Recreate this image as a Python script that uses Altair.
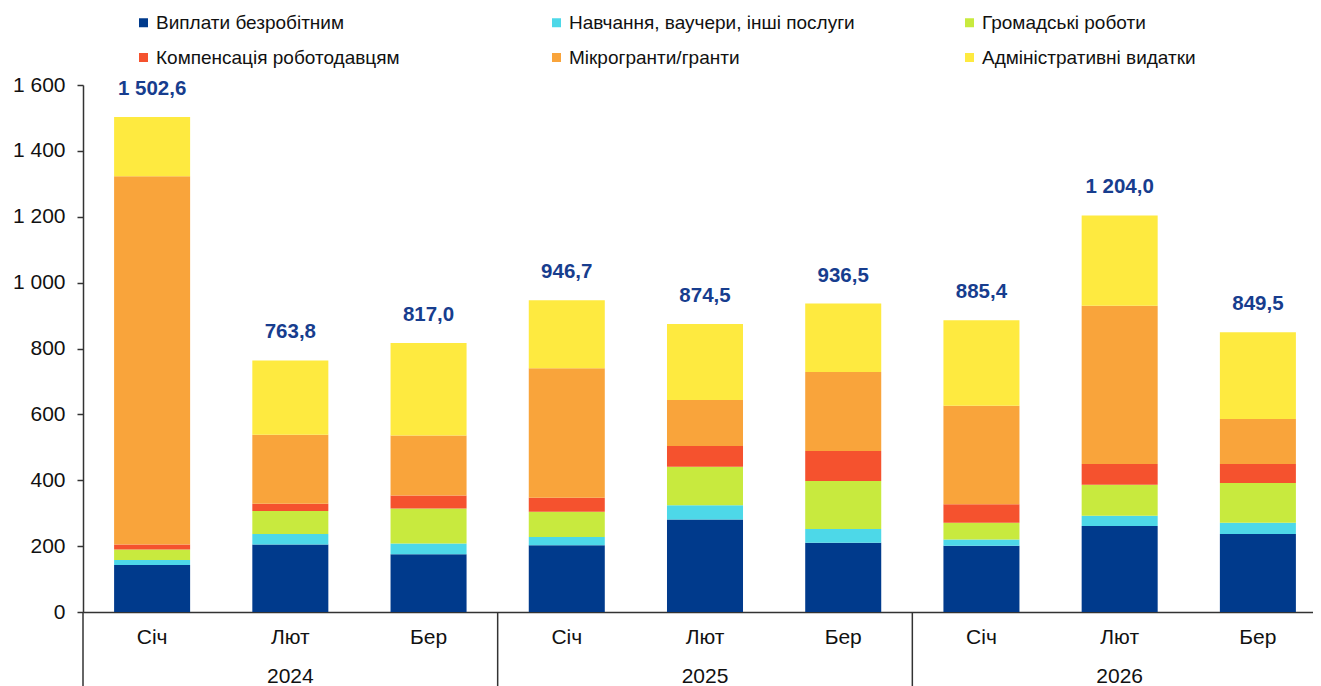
import altair as alt
import pandas as pd

# ---------------- data ----------------
years = ["2024", "2024", "2024", "2025", "2025", "2025", "2026", "2026", "2026"]
months = ["Січ", "Лют", "Бер", "Січ", "Лют", "Бер", "Січ", "Лют", "Бер"]
year_labels = ["2024", "2025", "2026"]

categories = [
    "Виплати безробітним",
    "Навчання, ваучери, інші послуги",
    "Громадські роботи",
    "Компенсація роботодавцям",
    "Мікрогранти/гранти",
    "Адміністративні видатки",
]
colors = ["#003A8C", "#4DD8E8", "#C8EA3E", "#F5522E", "#F9A43B", "#FEEA40"]

vyplaty = [143, 205, 175, 203, 281, 210, 201, 261, 237]
navchannia = [15, 32, 33, 25, 43, 42, 19, 31, 34]
hromadski = [32, 70, 106, 76, 117, 146, 51, 94, 121]
kompensatsia = [15, 22, 40, 43, 63, 91, 56, 63, 57]
mikrohranty = [1118, 209, 182, 393, 140, 240, 299, 481, 137]
administratyvni = [179.6, 225.8, 281.0, 206.7, 230.5, 207.5, 259.4, 274.0, 263.5]
totals = [1502.6, 763.8, 817.0, 946.7, 874.5, 936.5, 885.4, 1204.0, 849.5]

series = [vyplaty, navchannia, hromadski, kompensatsia, mikrohranty, administratyvni]

# ---------------- tables ----------------
keys = [f"{y}|{m}" for y, m in zip(years, months)]
rows = []
for ci, (cat, vals) in enumerate(zip(categories, series)):
    for k, v in zip(keys, vals):
        rows.append({"key": k, "category": cat, "value": v, "idx": ci})
df = pd.DataFrame(rows)


def fmt(v):
    return f"{v:,.1f}".replace(",", " ").replace(".", ",")


df_tot = pd.DataFrame({"key": keys, "total": totals, "label": [fmt(t) for t in totals]})

df_sep = pd.DataFrame({"pos": [0, 3, 6, 9]})
df_year = pd.DataFrame({"pos": [1.5, 4.5, 7.5], "year": year_labels})

# ---------------- layout ----------------
W = 1230
H = 527
XR = 1244
FONT = "Liberation Sans"
AXC = "#333333"

xband_scale = alt.Scale(range=[0, XR], paddingInner=0.45, paddingOuter=0.225)

bars = alt.Chart(df).mark_bar().encode(
    x=alt.X(
        "key:N",
        sort=keys,
        scale=xband_scale,
        axis=alt.Axis(
            title=None,
            labelExpr="split(datum.value, '|')[1]",
            ticks=False,
            labelPadding=14,
            labelFontSize=21,
            labelColor="#111111",
            labelAngle=0,
            domainColor=AXC,
            domainWidth=1.5,
        ),
    ),
    y=alt.Y(
        "value:Q",
        stack="zero",
        scale=alt.Scale(domain=[0, 1600], nice=False),
        axis=alt.Axis(
            title=None,
            values=list(range(0, 1601, 200)),
            labelExpr="replace(format(datum.value, ','), ',', ' ')",
            tickSize=6,
            tickColor=AXC,
            tickWidth=1.5,
            labelPadding=12,
            labelFontSize=21,
            labelColor="#111111",
            grid=False,
            domainColor=AXC,
            domainWidth=1.5,
        ),
    ),
    color=alt.Color(
        "category:N",
        scale=alt.Scale(domain=categories, range=colors),
        legend=alt.Legend(
            title=None,
            orient="none",
            legendX=51,
            legendY=-72,
            direction="horizontal",
            columns=3,
            gridAlign="all",
            columnPadding=105,
            rowPadding=15,
            symbolType="square",
            symbolSize=81,
            symbolStrokeWidth=0,
            labelFontSize=19,
            labelColor="#111111",
            labelOffset=3,
            labelLimit=0,
            padding=0,
        ),
    ),
    order=alt.Order("idx:Q", sort="ascending"),
)

tot_text = alt.Chart(df_tot).mark_text(
    fontSize=20.5, fontWeight="bold", color="#173D8E", baseline="middle", dy=-28
).encode(
    x=alt.X("key:N", sort=keys, scale=xband_scale),
    y=alt.Y("total:Q"),
    text="label:N",
)

inner = alt.layer(bars, tot_text)

lin = alt.Scale(domain=[0, 9], range=[0, XR], nice=False, zero=False)

seps = alt.Chart(df_sep).mark_rule(color=AXC, strokeWidth=1.5).encode(
    x=alt.X("pos:Q", scale=lin, axis=None),
    y=alt.value(H),
    y2=alt.value(H + 80),
)

year_text = alt.Chart(df_year).mark_text(
    fontSize=21, color="#111111", baseline="middle"
).encode(
    x=alt.X("pos:Q", scale=lin, axis=None),
    y=alt.value(H + 65),
    text="year:N",
)

chart = (
    alt.layer(inner, seps, year_text)
    .resolve_scale(x="independent")
    .properties(
        width=W,
        height=H,
        autosize=alt.AutoSizeParams(type="none"),
        padding={"left": 75, "top": 77, "right": 0, "bottom": 74},
    )
    .configure(font=FONT)
    .configure_view(strokeWidth=0)
)

chart.save("out.html", embed_options={"renderer": "svg", "actions": False})
